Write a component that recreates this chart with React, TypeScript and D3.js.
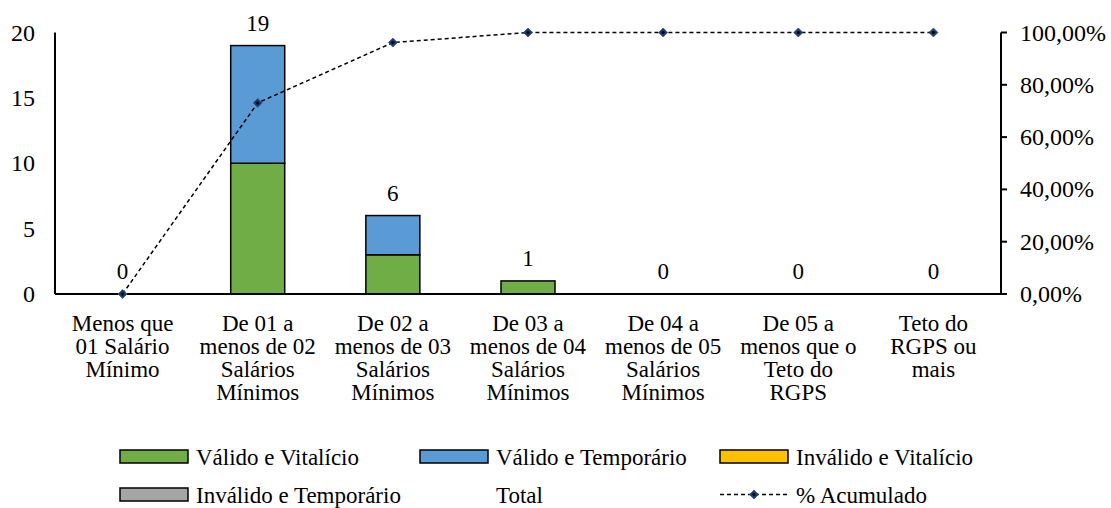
import * as d3 from "d3";

const categories = [
  ["Menos que", "01 Salário", "Mínimo"],
  ["De 01 a", "menos de 02", "Salários", "Mínimos"],
  ["De 02 a", "menos de 03", "Salários", "Mínimos"],
  ["De 03 a", "menos de 04", "Salários", "Mínimos"],
  ["De 04 a", "menos de 05", "Salários", "Mínimos"],
  ["De 05 a", "menos que o", "Teto do", "RGPS"],
  ["Teto do", "RGPS ou", "mais"],
];

const validoVitalicio = [0, 10, 3, 1, 0, 0, 0];
const validoTemporario = [0, 9, 3, 0, 0, 0, 0];
const invalidoVitalicio = [0, 0, 0, 0, 0, 0, 0];
const invalidoTemporario = [0, 0, 0, 0, 0, 0, 0];
const totals = [0, 19, 6, 1, 0, 0, 0];
const acumulado = [0, 0.7308, 0.9615, 1, 1, 1, 1];

const leftTicks = [0, 5, 10, 15, 20];
const rightTicks = [0, 0.2, 0.4, 0.6, 0.8, 1];

const seriesNames = [
  "Válido e Vitalício",
  "Válido e Temporário",
  "Inválido e Vitalício",
  "Inválido e Temporário",
];
const seriesColors = ["#70AD47", "#5B9BD5", "#FFC000", "#A5A5A5"];

const W = 1111;
const H = 508;
const FONT = "Liberation Serif";

export default function App() {
  const x = d3
    .scaleBand<number>()
    .domain(d3.range(categories.length))
    .range([55, 1001])
    .paddingInner(0)
    .paddingOuter(0);
  const y = d3.scaleLinear().domain([0, 20]).range([294, 32.5]);
  const y2 = d3.scaleLinear().domain([0, 1]).range([294, 32.5]);
  const barW = 54;

  const stack = d3.stack<number>().keys(["0", "1", "2", "3"]).value((i, k) => {
    const arr = [validoVitalicio, validoTemporario, invalidoVitalicio, invalidoTemporario][+k];
    return arr[i];
  });
  const stacked = stack(d3.range(categories.length));

  const cx = (i: number) => (x(i) ?? 0) + x.bandwidth() / 2;
  const line = d3
    .line<number>()
    .x((_, i) => cx(i))
    .y((d) => y2(d));

  const fmtPct = (v: number) => (v * 100).toFixed(2).replace(".", ",") + "%";

  const diamond = (px: number, py: number, key: string) => (
    <g key={key}>
      <path
        d={`M${px},${py - 4.5}L${px + 4.5},${py}L${px},${py + 4.5}L${px - 4.5},${py}Z`}
        fill="#1F3B6B"
        stroke="#2E5597"
        strokeWidth={0.8}
      />
      <circle cx={px} cy={py} r={1.5} fill="#000" />
    </g>
  );

  const legendItems = [
    { kind: "rect", color: seriesColors[0], label: seriesNames[0], x: 120, y: 450 },
    { kind: "rect", color: seriesColors[1], label: seriesNames[1], x: 420, y: 450 },
    { kind: "rect", color: seriesColors[2], label: seriesNames[2], x: 720, y: 450 },
    { kind: "rect", color: seriesColors[3], label: seriesNames[3], x: 120, y: 488 },
    { kind: "none", color: "none", label: "Total", x: 420, y: 488 },
    { kind: "line", color: "#000", label: "% Acumulado", x: 720, y: 488 },
  ];

  return (
    <svg
      width={W}
      height={H}
      style={{ position: "absolute", left: 0, top: 0, background: "#fff" }}
    >
      {/* bars */}
      {stacked.map((s, si) =>
        s.map((d, i) =>
          d[1] - d[0] > 0 ? (
            <rect
              key={`b${si}-${i}`}
              x={cx(i) - barW / 2}
              y={y(d[1])}
              width={barW}
              height={y(d[0]) - y(d[1])}
              fill={seriesColors[si]}
              stroke="#000"
              strokeWidth={1.5}
            />
          ) : null
        )
      )}

      {/* total labels */}
      {totals.map((t, i) => (
        <text key={`t${i}`} x={cx(i)} y={y(t) - 15} textAnchor="middle" fill="#000" fontFamily={FONT} fontSize={23}>
          {t}
        </text>
      ))}

      {/* axes */}
      <line x1={55} x2={55} y1={32.5} y2={294} stroke="#000" strokeWidth={2} />
      <line x1={55} x2={1001} y1={294} y2={294} stroke="#000" strokeWidth={2} />
      <line x1={1001} x2={1001} y1={32.5} y2={294} stroke="#000" strokeWidth={2} />

      {leftTicks.map((t) => (
        <text key={`l${t}`} x={35} y={y(t) + 8} textAnchor="end" fill="#000" fontFamily={FONT} fontSize={24}>
          {t}
        </text>
      ))}
      {rightTicks.map((t) => (
        <g key={`r${t}`}>
          <line x1={1001} x2={1007} y1={y2(t)} y2={y2(t)} stroke="#000" strokeWidth={2} />
          <text x={1020} y={y2(t) + 8} fill="#000" fontFamily={FONT} fontSize={24}>
            {fmtPct(t)}
          </text>
        </g>
      ))}

      {/* category labels */}
      {categories.map((lines, i) => (
        <text key={`c${i}`} x={cx(i)} y={331} textAnchor="middle" fill="#000" fontFamily={FONT} fontSize={23}>
          {lines.map((ln, j) => (
            <tspan key={j} x={cx(i)} dy={j === 0 ? 0 : 23}>
              {ln}
            </tspan>
          ))}
        </text>
      ))}

      {/* cumulative line */}
      <path
        d={line(acumulado) ?? ""}
        fill="none"
        stroke="#000"
        strokeWidth={1.5}
        strokeDasharray="4,3"
      />
      {acumulado.map((v, i) => diamond(cx(i), y2(v), `m${i}`))}

      {/* legend */}
      {legendItems.map((it, i) => (
        <g key={`lg${i}`}>
          {it.kind === "rect" && (
            <rect x={it.x} y={it.y} width={68} height={13} fill={it.color} stroke="#000" strokeWidth={1.5} />
          )}
          {it.kind === "line" && (
            <>
              <line
                x1={it.x}
                x2={it.x + 68}
                y1={it.y + 6.5}
                y2={it.y + 6.5}
                stroke="#000"
                strokeWidth={1.5}
                strokeDasharray="4,3"
              />
              {diamond(it.x + 34, it.y + 6.5, `ld${i}`)}
            </>
          )}
          <text x={it.x + 76} y={it.y + 14.5} fill="#000" fontFamily={FONT} fontSize={23}>
            {it.label}
          </text>
        </g>
      ))}
    </svg>
  );
}
